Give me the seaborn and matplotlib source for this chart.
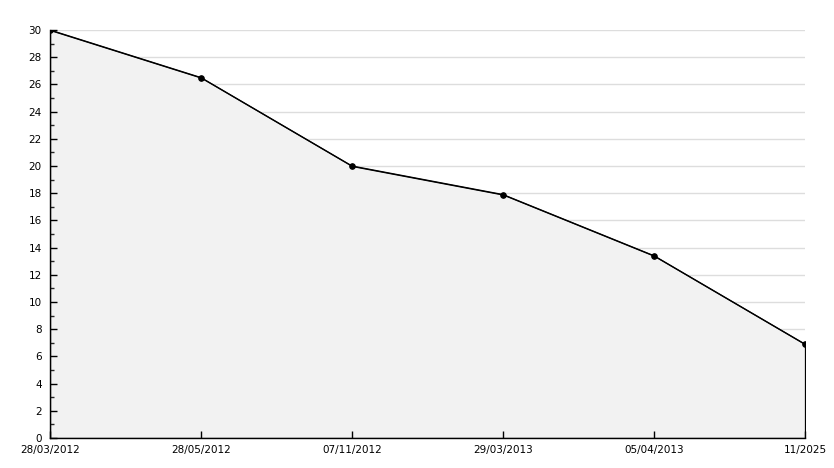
import pandas as pd
import seaborn as sns
import matplotlib.pyplot as plt
from matplotlib.ticker import MultipleLocator

# values
dates = ["28/03/2012", "28/05/2012", "07/11/2012", "29/03/2013", "05/04/2013", "11/2025"]
values = [30, 26.5, 20, 17.9, 13.4, 6.9]
grid_levels = list(range(2, 31, 2))

df = pd.DataFrame({"pos": range(len(dates)), "value": values})

sns.set_style("white")
plt.rcParams['font.family'] = ['DejaVu Sans']

fig = plt.figure(figsize=(8.34, 4.68), dpi=100)
ax = fig.add_axes([50 / 834, 30 / 468, 755 / 834, 408 / 468])

# grid drawn by hand so the fill hides it but the ticks stay on top
for g in grid_levels:
    ax.axhline(g, color="#dddddd", linewidth=1, zorder=0.5)

ax.fill_between(df["pos"], df["value"], 0, facecolor="#f2f2f2",
                edgecolor="black", linewidth=0.9, zorder=1)
sns.lineplot(data=df, x="pos", y="value", color="black", linewidth=0.9,
             marker="o", markersize=4, markeredgecolor="black", ax=ax, zorder=3)

ax.set_xlim(0, len(dates) - 1)
ax.set_ylim(0, 30)
ax.set_xticks(df["pos"])
ax.set_xticklabels(dates)
ax.yaxis.set_major_locator(MultipleLocator(2))
ax.yaxis.set_minor_locator(MultipleLocator(1))
ax.grid(False)
ax.set_axisbelow(False)

for s in ["top", "right"]:
    ax.spines[s].set_visible(False)
for s in ["left", "bottom"]:
    ax.spines[s].set_color("black")
    ax.spines[s].set_linewidth(1)
    ax.spines[s].set_zorder(4)

ax.tick_params(axis="y", which="major", direction="in", length=5, width=1,
               labelsize=7.5, pad=6, colors="black", left=True)
ax.tick_params(axis="y", which="minor", direction="in", length=3, width=1, left=True)
ax.tick_params(axis="x", which="major", direction="in", length=5, width=1,
               labelsize=7.5, pad=5, colors="black", bottom=True)
ax.set_xlabel("")
ax.set_ylabel("")

fig.savefig("out.png", dpi=100, facecolor="white")
